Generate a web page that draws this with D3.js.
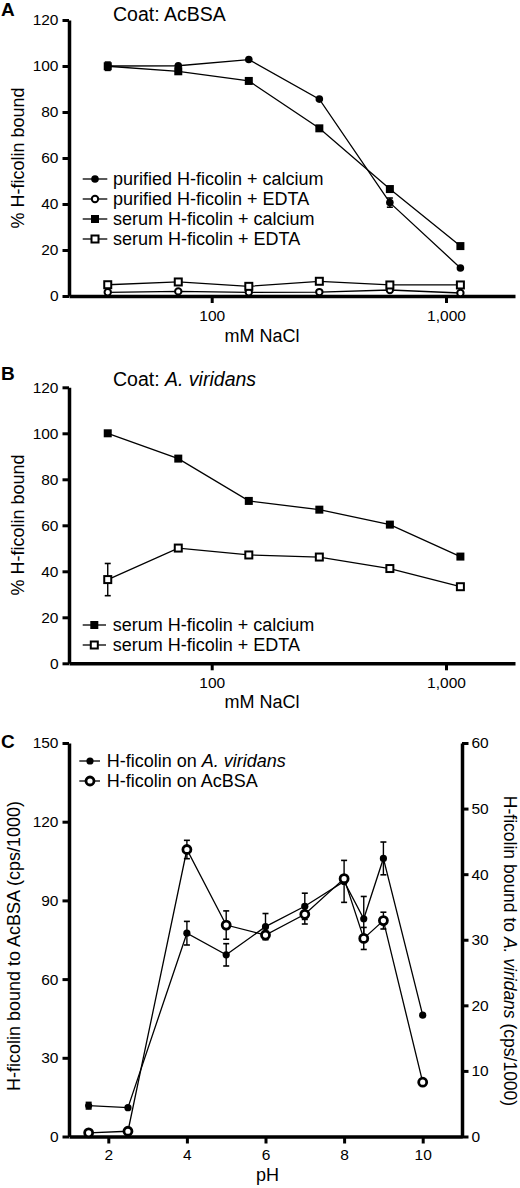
<!DOCTYPE html>
<html><head><meta charset="utf-8">
<script src="https://cdn.jsdelivr.net/npm/d3@7"></script>
<style>
html,body{margin:0;padding:0;background:#fff;}
svg{display:block;font-family:"Liberation Sans",Arial,Helvetica,sans-serif;}
</style></head>
<body>
<svg id="chart" width="520" height="1188"></svg>
<script>
// ---------- DATA ----------
const naclA = [36, 72, 144, 288, 576, 1152];
const purifiedCalcium = [100, 100.1, 102.8, 85.6, 40.6, 12.2];
const purifiedCalciumErr = [0, 0, 0, 0, 2.0, 0];
const purifiedEDTA = [1.6, 2.0, 1.6, 1.7, 2.6, 1.3];
const serumCalciumA = [99.9, 97.7, 93.5, 72.9, 46.5, 21.7];
const serumCalciumAErr = [1.8, 0, 0, 0, 0, 0];
const serumEDTAA = [4.9, 6.1, 4.2, 6.4, 4.8, 4.8];
const seriesNamesA = ["purified H-ficolin + calcium", "purified H-ficolin + EDTA", "serum H-ficolin + calcium", "serum H-ficolin + EDTA"];

const naclB = [36, 72, 144, 288, 576, 1152];
const serumCalciumB = [100, 89.0, 70.6, 66.8, 60.3, 46.4];
const serumEDTAB = [36.4, 50.1, 47.1, 46.2, 41.2, 33.3];
const serumEDTABErr = [7, 0, 0, 0, 0, 0];
const seriesNamesB = ["serum H-ficolin + calcium", "serum H-ficolin + EDTA"];

const pH = [1.5, 2.5, 4, 5, 6, 7, 8, 8.5, 9, 10];
const viridans = [4.7, 4.4, 31.0, 27.7, 32.0, 35.1, 38.9, 33.2, 42.4, 18.5];     // right axis
const viridansErr = [0.5, 0, 1.8, 1.7, 2.0, 2.0, 3.2, 3.4, 2.5, 0];
const acbsa = [1.4, 2.0, 109.4, 80.6, 76.8, 84.7, 98.3, 75.5, 82.3, 20.7];        // left axis
const acbsaErr = [0, 0, 3.5, 5.4, 1.5, 3.7, 1.0, 4.2, 3.2, 0];

const yTicksAB = [0, 20, 40, 60, 80, 100, 120];
const xTicksAB = [100, 1000];
const yTicksCLeft = [0, 30, 60, 90, 120, 150];
const yTicksCRight = [0, 10, 20, 30, 40, 50, 60];
const xTicksC = [2, 4, 6, 8, 10];

// ---------- HELPERS ----------
const svg = d3.select("#chart");
const FONT_TICK = 15.5, FONT_LAB = 18;

function styleAxis(g, fs) {
  g.attr("font-size", fs).attr("font-family", null);
  g.selectAll("path.domain").attr("stroke", "#000").attr("stroke-width", 3.5);
  g.selectAll(".tick line").attr("stroke", "#000").attr("stroke-width", 3);
  g.selectAll(".tick text").attr("fill", "#000");
}

function marker(g, type, x, y) {
  if (type === "cf") g.append("circle").attr("cx", x).attr("cy", y).attr("r", 3.8).attr("fill", "#000");
  else if (type === "co") g.append("circle").attr("cx", x).attr("cy", y).attr("r", 3.2).attr("fill", "#fff").attr("stroke", "#000").attr("stroke-width", 2);
  else if (type === "coC") g.append("circle").attr("cx", x).attr("cy", y).attr("r", 4.0).attr("fill", "#fff").attr("stroke", "#000").attr("stroke-width", 2.8);
  else if (type === "cfC") g.append("circle").attr("cx", x).attr("cy", y).attr("r", 3.6).attr("fill", "#000");
  else if (type === "sf") g.append("rect").attr("x", x - 4).attr("y", y - 4).attr("width", 8).attr("height", 8).attr("fill", "#000");
  else if (type === "so") g.append("rect").attr("x", x - 3.5).attr("y", y - 3.5).attr("width", 7).attr("height", 7).attr("fill", "#fff").attr("stroke", "#000").attr("stroke-width", 2);
}

function series(g, xs, ys, errs, xScale, yScale, type) {
  const line = d3.line().x((d, i) => xScale(xs[i])).y(d => yScale(d));
  g.append("path").datum(ys).attr("d", line).attr("fill", "none").attr("stroke", "#000").attr("stroke-width", 1.3);
  if (errs) {
    ys.forEach((v, i) => {
      const e = errs[i];
      if (!e) return;
      const x = xScale(xs[i]), y1 = yScale(v + e), y2 = yScale(v - e);
      g.append("line").attr("x1", x).attr("x2", x).attr("y1", y1).attr("y2", y2).attr("stroke", "#000").attr("stroke-width", 1.4);
      [y1, y2].forEach(yy => g.append("line").attr("x1", x - 3).attr("x2", x + 3).attr("y1", yy).attr("y2", yy).attr("stroke", "#000").attr("stroke-width", 1.6));
    });
  }
  ys.forEach((v, i) => marker(g, type, xScale(xs[i]), yScale(v)));
}

function legend(g, x0, x1, xm, xt, y0, dy, items) {
  items.forEach((it, i) => {
    const y = y0 + i * dy;
    g.append("line").attr("x1", x0).attr("x2", x1).attr("y1", y).attr("y2", y).attr("stroke", "#000").attr("stroke-width", 1.3);
    marker(g, it.type, xm, y);
    const t = g.append("text").attr("x", xt).attr("y", y + 6.3).attr("font-size", FONT_LAB).attr("fill", "#000");
    it.parts.forEach(p => t.append("tspan").attr("font-style", p.italic ? "italic" : null).text(p.t));
  });
}

function logPanel(letter, top, bottom, letterY, titleY, titleParts, xLabelY, yLabelCenter) {
  const g = svg.append("g");
  const xRef = d3.scaleLog().domain([100, 1000]).range([211.7, 446]);
  const x = d3.scaleLog().domain([xRef.invert(69), xRef.invert(515)]).range([69, 515]);
  const y = d3.scaleLinear().domain([0, 120]).range([bottom, top]);
  const ya = g.append("g").attr("transform", "translate(69,0)")
    .call(d3.axisLeft(y).tickValues(yTicksAB).tickSize(6.5).tickSizeOuter(0).tickPadding(4));
  styleAxis(ya, FONT_TICK);
  const xa = g.append("g").attr("transform", `translate(0,${bottom})`)
    .call(d3.axisBottom(x).tickValues(xTicksAB).tickFormat(d3.format(",")).tickSize(7).tickSizeOuter(0).tickPadding(7));
  styleAxis(xa, FONT_TICK);
  g.append("text").attr("x", 1).attr("y", letterY).attr("font-size", 19).attr("font-weight", "bold").text(letter);
  const t = g.append("text").attr("x", 113).attr("y", titleY).attr("font-size", 19.5);
  titleParts.forEach(p => t.append("tspan").attr("font-style", p.italic ? "italic" : null).text(p.t));
  g.append("text").attr("x", 262).attr("y", xLabelY).attr("text-anchor", "middle").attr("font-size", FONT_LAB).text("mM NaCl");
  g.append("text").attr("transform", `translate(23.5,${yLabelCenter}) rotate(-90)`).attr("text-anchor", "middle").attr("font-size", FONT_LAB).text("% H-ficolin bound");
  return { g, x, y };
}

// ---------- PANEL A ----------
{
  const { g, x, y } = logPanel("A", 20, 296, 15.5, 20.5, [{ t: "Coat: AcBSA" }], 342, 158);
  const d = g.append("g");
  series(d, naclA, purifiedEDTA, null, x, y, "co");
  series(d, naclA, serumEDTAA, null, x, y, "so");
  series(d, naclA, purifiedCalcium, purifiedCalciumErr, x, y, "cf");
  series(d, naclA, serumCalciumA, serumCalciumAErr, x, y, "sf");
  legend(g, 82.7, 107.3, 95, 113, 179, 20, [
    { type: "cf", parts: [{ t: seriesNamesA[0] }] },
    { type: "co", parts: [{ t: seriesNamesA[1] }] },
    { type: "sf", parts: [{ t: seriesNamesA[2] }] },
    { type: "so", parts: [{ t: seriesNamesA[3] }] }
  ]);
}

// ---------- PANEL B ----------
{
  const { g, x, y } = logPanel("B", 387.3, 663.3, 380, 386, [{ t: "Coat: " }, { t: "A. viridans", italic: true }], 708, 525);
  const d = g.append("g");
  series(d, naclB, serumCalciumB, null, x, y, "sf");
  series(d, naclB, serumEDTAB, serumEDTABErr, x, y, "so");
  legend(g, 82.7, 106, 94.3, 112.7, 625, 20, [
    { type: "sf", parts: [{ t: seriesNamesB[0] }] },
    { type: "so", parts: [{ t: seriesNamesB[1] }] }
  ]);
}

// ---------- PANEL C ----------
{
  const g = svg.append("g");
  const top = 743, bottom = 1136.5;
  const x = d3.scaleLinear().domain([1, 11]).range([69, 462]);
  const yL = d3.scaleLinear().domain([0, 150]).range([bottom, top]);
  const yR = d3.scaleLinear().domain([0, 60]).range([bottom, top]);
  const ya = g.append("g").attr("transform", "translate(69,0)")
    .call(d3.axisLeft(yL).tickValues(yTicksCLeft).tickSize(6.5).tickSizeOuter(0).tickPadding(4));
  styleAxis(ya, FONT_TICK);
  const yb = g.append("g").attr("transform", "translate(462,0)")
    .call(d3.axisRight(yR).tickValues(yTicksCRight).tickSize(6.5).tickSizeOuter(0).tickPadding(3));
  styleAxis(yb, FONT_TICK);
  const xa = g.append("g").attr("transform", `translate(0,${bottom})`)
    .call(d3.axisBottom(x).tickValues(xTicksC).tickSize(7).tickSizeOuter(0).tickPadding(5));
  styleAxis(xa, FONT_TICK);
  g.append("text").attr("x", 1).attr("y", 748).attr("font-size", 19).attr("font-weight", "bold").text("C");
  g.append("text").attr("x", 267.5).attr("y", 1181).attr("text-anchor", "middle").attr("font-size", FONT_LAB).text("pH");
  g.append("text").attr("transform", "translate(20,946) rotate(-90)").attr("text-anchor", "middle").attr("font-size", FONT_LAB).text("H-ficolin bound to AcBSA (cps/1000)");
  const rt = g.append("text").attr("transform", "translate(504,951) rotate(90)").attr("text-anchor", "middle").attr("font-size", 17.5);
  rt.append("tspan").text("H-ficolin bound to ");
  rt.append("tspan").attr("font-style", "italic").text("A. viridans");
  rt.append("tspan").text(" (cps/1000)");
  const d = g.append("g");
  series(d, pH, viridans, viridansErr, x, yR, "cfC");
  series(d, pH, acbsa, acbsaErr, x, yL, "coC");
  legend(g, 79.3, 100, 90, 106.7, 761, 20, [
    { type: "cfC", parts: [{ t: "H-ficolin on " }, { t: "A. viridans", italic: true }] },
    { type: "coC", parts: [{ t: "H-ficolin on AcBSA" }] }
  ]);
}
</script>
</body></html>
